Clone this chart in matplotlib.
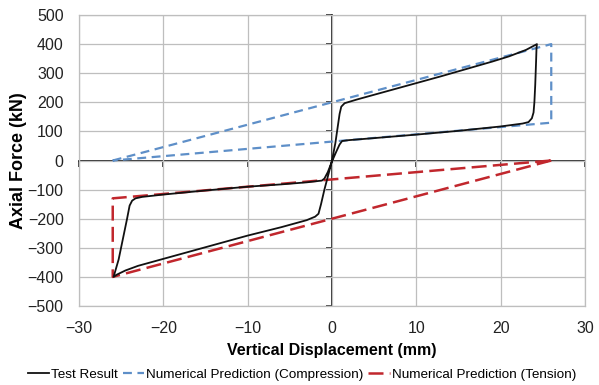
import matplotlib
matplotlib.use("Agg")
import matplotlib.pyplot as plt
from matplotlib.lines import Line2D

plt.rcParams['font.family'] = ['Liberation Sans', 'DejaVu Sans']

# Test result hysteresis loop (mm, kN)
test_x = [0, 0.4, 0.7, 0.9, 1.1, 1.5, 3, 5, 8, 10, 13, 16, 19, 21, 23, 24.3,
          24.25, 24.2, 24.1, 24.0, 23.9, 23.7, 23.3, 22.6, 20, 15, 10, 5, 2, 1.2,
          0.9, 0.5, 0.0, -0.5, -0.9, -1.2,
          -3, -6, -10, -15, -20, -22.5, -23.3, -23.7, -24.0, -24.3, -24.8, -25.3, -25.9,
          -25.5, -24.5, -23, -20, -15, -10, -6, -3, -2, -1.6, -1.3, -0.9, -0.4, 0]
test_y = [0, 60, 120, 160, 185, 197, 210, 226, 250, 266, 290, 315, 340, 358, 380, 400,
          385, 340, 260, 200, 165, 145, 132, 127, 117, 102, 89, 77, 70, 67,
          55, 30, -3, -40, -62, -69,
          -75, -82, -90, -103, -117, -125, -130, -138, -155, -200, -270, -340, -400,
          -392, -378, -362, -338, -298, -258, -229, -205, -193, -183, -150, -100, -45, 0]

# Numerical prediction (compression)
comp_x = [-26, 26, 26, -26]
comp_y = [0, 400, 130, 0]

# Numerical prediction (tension)
tens_x = [26, -26, -26, 26]
tens_y = [0, -400, -130, 0]

xticks = [-30, -20, -10, 0, 10, 20, 30]
yticks = [-500, -400, -300, -200, -100, 0, 100, 200, 300, 400, 500]

blue = '#5E8FC8'
red = '#C1272D'

fig = plt.figure(figsize=(5.99, 3.85), dpi=100)
pos = [0.1319, 0.2052, 0.8447, 0.7558]
ax = fig.add_axes(pos)
ax.set_xlim(-30, 30)
ax.set_ylim(-500, 500)
ax.set_xticks(xticks)
ax.set_yticks(yticks)
ax.grid(True, color='#BEBEBE', linewidth=0.9)
for s in ax.spines.values():
    s.set_color('#BEBEBE')
    s.set_linewidth(0.9)
ax.tick_params(length=0, labelsize=11.5, colors='#222222')
ax.tick_params(axis='x', pad=10.5)
ax.tick_params(axis='y', pad=11)
ax.set_axisbelow(True)

ax.plot(comp_x, comp_y, color=blue, lw=1.6, dashes=(4, 2.5), zorder=3)
ax.plot(tens_x, tens_y, color=red, lw=1.8, dashes=(6, 2.5), zorder=3)
ax.plot(test_x, test_y, color='#111111', lw=1.3, zorder=4)

ax.set_xlabel('Vertical Displacement (mm)', fontsize=11.5, fontweight='bold', labelpad=5)
ax.set_ylabel('Axial Force (kN)', fontsize=13, fontweight='bold')
ax.yaxis.set_label_coords(-0.102, 0.5)

# Central axes crossing at zero
ax2 = fig.add_axes(pos, sharex=ax, sharey=ax)
ax2.patch.set_visible(False)
ax2.spines['left'].set_position(('data', 0))
ax2.spines['bottom'].set_position(('data', 0))
ax2.spines['top'].set_visible(False)
ax2.spines['right'].set_visible(False)
for s in ('left', 'bottom'):
    ax2.spines[s].set_color('#222222')
    ax2.spines[s].set_linewidth(1.3)
ax2.tick_params(direction='out', length=4, width=1.2, color='#222222',
                labelbottom=False, labelleft=False)
ax2.set_zorder(0)
ax.set_zorder(1)
ax.patch.set_visible(False)

handles = [Line2D([], [], color='#111111', lw=1.3),
           Line2D([], [], color=blue, lw=1.6, dashes=(4, 2.5)),
           Line2D([], [], color=red, lw=1.8, dashes=(6, 2.5))]
labels = ['Test Result', 'Numerical Prediction (Compression)', 'Numerical Prediction (Tension)']
fig.legend(handles, labels, loc='center', bbox_to_anchor=(0.504, 0.026), ncol=3,
           frameon=False, fontsize=9.7, handlelength=1.6, handletextpad=0.15,
           columnspacing=0.35)

fig.savefig('out.png', dpi=100)
